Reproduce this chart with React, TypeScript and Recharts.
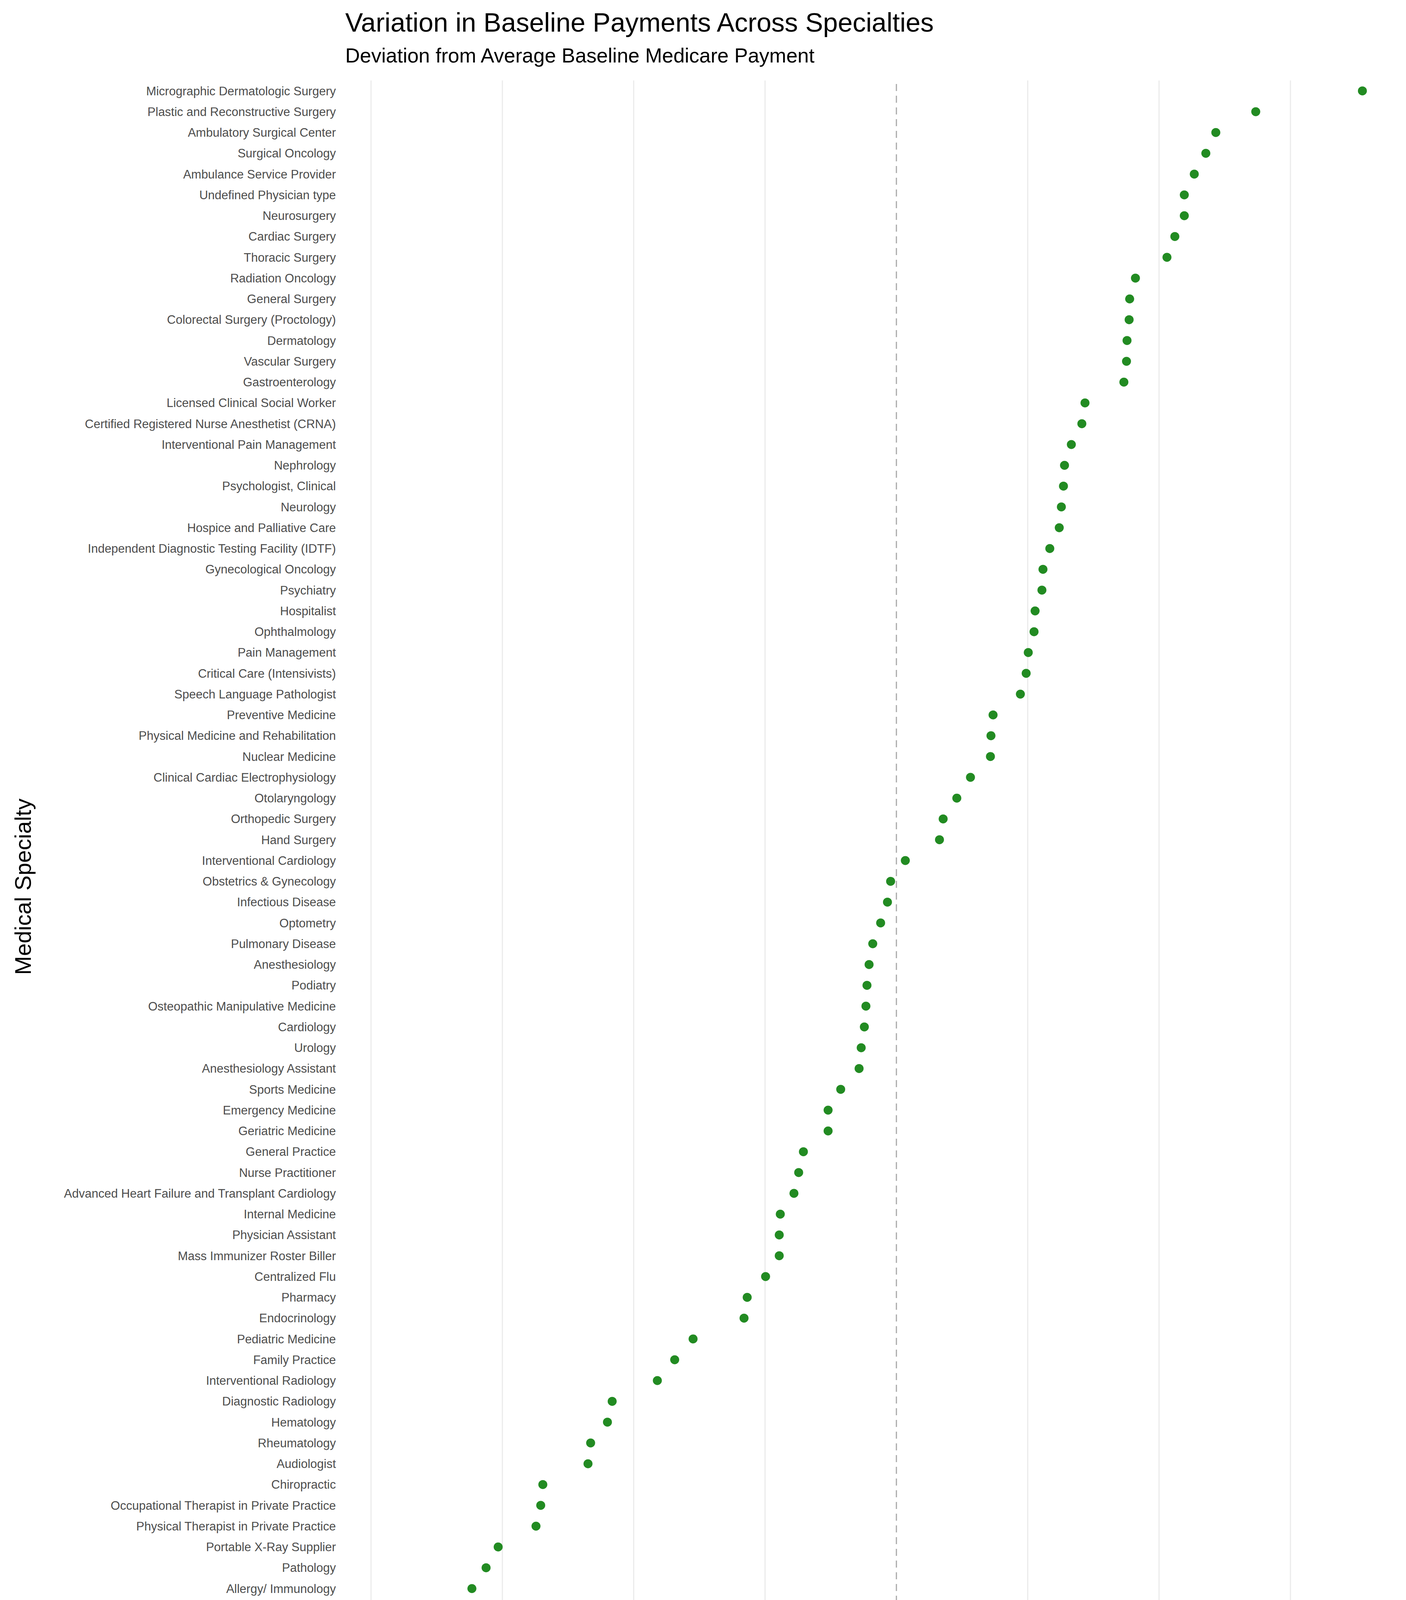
import React from "react";
import {
  ScatterChart,
  Scatter,
  XAxis,
  YAxis,
  ReferenceLine,
} from "recharts";

const specialties: string[] = [
  "Micrographic Dermatologic Surgery", "Plastic and Reconstructive Surgery", "Ambulatory Surgical Center",
  "Surgical Oncology", "Ambulance Service Provider", "Undefined Physician type", "Neurosurgery",
  "Cardiac Surgery", "Thoracic Surgery", "Radiation Oncology", "General Surgery",
  "Colorectal Surgery (Proctology)", "Dermatology", "Vascular Surgery", "Gastroenterology",
  "Licensed Clinical Social Worker", "Certified Registered Nurse Anesthetist (CRNA)",
  "Interventional Pain Management", "Nephrology", "Psychologist, Clinical", "Neurology",
  "Hospice and Palliative Care", "Independent Diagnostic Testing Facility (IDTF)",
  "Gynecological Oncology", "Psychiatry", "Hospitalist", "Ophthalmology", "Pain Management",
  "Critical Care (Intensivists)", "Speech Language Pathologist", "Preventive Medicine",
  "Physical Medicine and Rehabilitation", "Nuclear Medicine", "Clinical Cardiac Electrophysiology",
  "Otolaryngology", "Orthopedic Surgery", "Hand Surgery", "Interventional Cardiology",
  "Obstetrics & Gynecology", "Infectious Disease", "Optometry", "Pulmonary Disease",
  "Anesthesiology", "Podiatry", "Osteopathic Manipulative Medicine", "Cardiology", "Urology",
  "Anesthesiology Assistant", "Sports Medicine", "Emergency Medicine", "Geriatric Medicine",
  "General Practice", "Nurse Practitioner", "Advanced Heart Failure and Transplant Cardiology",
  "Internal Medicine", "Physician Assistant", "Mass Immunizer Roster Biller", "Centralized Flu",
  "Pharmacy", "Endocrinology", "Pediatric Medicine", "Family Practice", "Interventional Radiology",
  "Diagnostic Radiology", "Hematology", "Rheumatology", "Audiologist", "Chiropractic",
  "Occupational Therapist in Private Practice", "Physical Therapist in Private Practice",
  "Portable X-Ray Supplier", "Pathology", "Allergy/ Immunology", "Medical Oncology",
  "Hematology-Oncology", "Clinical Laboratory",
];

const deviations: number[] = [
  0.887, 0.684, 0.608, 0.589, 0.567, 0.548, 0.548, 0.53, 0.515, 0.455, 0.444,
  0.443, 0.439, 0.438, 0.433, 0.359, 0.353, 0.333, 0.32, 0.318, 0.314,
  0.31, 0.292, 0.279, 0.277, 0.264, 0.262, 0.251, 0.247, 0.236, 0.184,
  0.18, 0.179, 0.141, 0.115, 0.089, 0.082, 0.017, -0.011, -0.017, -0.03,
  -0.045, -0.052, -0.056, -0.058, -0.061, -0.067, -0.071, -0.106, -0.13, -0.13,
  -0.177, -0.186, -0.195, -0.221, -0.223, -0.223, -0.249, -0.284, -0.29, -0.387,
  -0.422, -0.455, -0.541, -0.55, -0.582, -0.587, -0.673, -0.677, -0.686, -0.758,
  -0.781, -0.808, -0.925, -0.936, -0.963,
];

const xTicks = [-1, -0.5, 0, 0.5];
const gridValues = [-1, -0.75, -0.5, -0.25, 0.25, 0.5, 0.75];

const data = specialties.map((name, i) => ({ name, value: deviations[i] }));

const font = "'Liberation Sans', Arial, sans-serif";

export default function App() {
  return (
    <div style={{ position: "absolute", left: 0, top: 0, width: 3600, height: 4500, background: "#fff", fontFamily: font }}>
      <div style={{ position: "absolute", left: 884, top: 18, fontSize: 68, color: "#000" }}>
        Variation in Baseline Payments Across Specialties
      </div>
      <div style={{ position: "absolute", left: 884, top: 112, fontSize: 52, color: "#000" }}>
        Deviation from Average Baseline Medicare Payment
      </div>
      <div
        style={{
          position: "absolute", left: 58, top: 2270, fontSize: 58, color: "#000",
          transform: "translate(-50%, -50%) rotate(-90deg)", whiteSpace: "nowrap",
        }}
      >
        Medical Specialty
      </div>
      <div
        style={{
          position: "absolute", left: 2260, top: 4438, fontSize: 58, color: "#000",
          transform: "translate(-50%, -50%)", whiteSpace: "nowrap",
        }}
      >
        Estimated Deviation from Average Baseline (Medicare Payment)
      </div>
      <ScatterChart width={3600} height={4500} margin={{ top: 206, right: 0, bottom: 167, left: 0 }}>
        {gridValues.map((v) => (
          <ReferenceLine key={v} x={v} stroke="#ebebeb" strokeWidth={3} />
        ))}
        <ReferenceLine x={0} stroke="#aaaaaa" strokeWidth={3} strokeDasharray="18 12" />
        <XAxis
          type="number"
          dataKey="value"
          domain={[-1.0, 0.97]}
          ticks={xTicks}
          tickFormatter={(v: number) => v.toFixed(1)}
          tick={{ fill: "#4d4d4d", fontSize: 43, fontFamily: font }}
          tickLine={false}
          axisLine={false}
          tickMargin={20}
          height={80}
        />
        <YAxis
          type="category"
          dataKey="name"
          reversed
          allowDuplicatedCategory={false}
          width={950}
          interval={0}
          tick={{ fill: "#4d4d4d", fontSize: 31, fontFamily: font }}
          tickLine={false}
          axisLine={false}
          tickSize={0}
          tickMargin={90}
        />
        <Scatter data={data} fill="#228b22" isAnimationActive={false} shape={(p: any) => <circle cx={p.cx} cy={p.cy} r={11.5} fill="#228b22" />} />
      </ScatterChart>
    </div>
  );
}
